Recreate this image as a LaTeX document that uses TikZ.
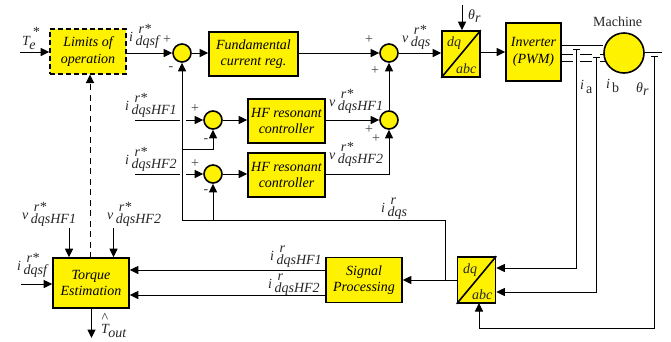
\documentclass[tikz,border=0pt]{standalone}
\usepackage{fontspec}
\setmainfont{Liberation Serif}
\usetikzlibrary{arrows.meta}
\newcommand{\sig}[3]{\textit{#1}\kern2.5pt\rlap{\raisebox{8pt}{\kern3pt\textit{#2}}}\raisebox{-4pt}{\textit{#3}}}
\newcommand{\sigT}[2]{\textit{T}\kern-1.5pt\rlap{\raisebox{9pt}{\kern3pt\textit{#1}}}\raisebox{-4pt}{\textit{#2}}}
\newcommand{\thetaR}{\textit{θ}\raisebox{-3pt}{\textit{r}}}
\begin{document}
\begin{tikzpicture}[x=1pt,y=-1pt]
	\tikzset{blockbox/.style = {rectangle,draw,fill=yellow,line width=1.6pt,inner sep=0pt,align=center,font=\fontsize{14}{16.5}\selectfont\itshape}}
	\tikzset{sumnode/.style = {circle,draw,fill=yellow,line width=1.6pt,minimum size=18pt,inner sep=0pt}}
	\tikzset{signame/.style = {anchor=base west,inner sep=0pt,font=\fontsize{14}{16}\selectfont,text=black!85}}
	\tikzset{signmark/.style = {inner sep=0pt,font=\fontsize{14}{14}\selectfont,text=black!75}}
	\tikzstyle{edge} = [-{Triangle[length=8.5pt,width=8pt]},line width=1pt]
	\tikzstyle{wire} = [line width=1pt]
	\tikzstyle{dashEdge} = [edge,dash pattern=on 6pt off 4.5pt]
	\tikzstyle{tapEdge} = [{Bar[width=7pt,length=1.5pt]}-{Triangle[length=8.5pt,width=8pt]},line width=1pt]
	\useasboundingbox (0,0) rectangle (671,341);
	%blocks
	\node[blockbox,dash pattern=on 5pt off 3pt,minimum width=76pt,minimum height=45pt] (limits) at (88,51.5) {Limits of\\operation};
	\node[blockbox,minimum width=89pt,minimum height=44pt] (fund) at (253.5,54) {Fundamental\\current reg.};
	\node[blockbox,minimum width=77pt,minimum height=44pt] (res1) at (286.5,121) {HF resonant\\controller};
	\node[blockbox,minimum width=77pt,minimum height=44pt] (res2) at (286.5,175) {HF resonant\\controller};
	\node[blockbox,minimum width=38pt,minimum height=46pt] (park1) at (461,54) {};
	\node[blockbox,minimum width=55pt,minimum height=58pt] (inv) at (533.5,52) {Inverter\\(PWM)};
	\node[blockbox,minimum width=38pt,minimum height=46pt] (park2) at (476.5,280) {};
	\node[blockbox,minimum width=76pt,minimum height=45pt] (proc) at (364,280) {Signal\\Processing};
	\node[blockbox,minimum width=76pt,minimum height=50pt] (torque) at (91,283) {Torque\\Estimation};
	%summing points
	\node[sumnode] (s1) at (182,53) {};
	\node[sumnode] (s2) at (213,120) {};
	\node[sumnode] (s3) at (213,174) {};
	\node[sumnode] (s4) at (389,53) {};
	\node[sumnode] (s5) at (389,120) {};
	\node[sumnode,minimum size=40pt] (machine) at (624,53) {};
	%diagonals of the dq/abc blocks
	\draw[line width=1.6pt] (park1.south west) -- (park1.north east);
	\draw[line width=1.6pt] (park2.south west) -- (park2.north east);
	\node[signame] (dq1) at (447,46) {\textit{dq}};
	\node[signame] (abc1) at (456,73) {\textit{abc}};
	\node[signame] (dq2) at (463,273) {\textit{dq}};
	\node[signame] (abc2) at (472,299) {\textit{abc}};
	%free ends
	\coordinate (teIn) at (20,52);
	\coordinate (thetaIn) at (462,5);
	\coordinate (hf1In) at (135,120);
	\coordinate (hf1Gap) at (180,120);
	\coordinate (hf1Go) at (186,120);
	\coordinate (hf2In) at (135,174);
	\coordinate (hf2Gap) at (180,174);
	\coordinate (hf2Go) at (186,174);
	\coordinate (vHf1In) at (69,228);
	\coordinate (vHf2In) at (113.5,228);
	\coordinate (iIn) at (21,284);
	\coordinate (tOut) at (91.5,338);
	\coordinate (fbTurn) at (182,220);
	\coordinate (fbEnd) at (445,220);
	\coordinate (fb1Tap) at (182,149);
	\coordinate (thetaTap) at (654,55.5);
	\coordinate (iaTap) at (576.5,48.5);
	\coordinate (ibTap) at (596,56.5);
	\coordinate (thetaEnd) at (662,52);
	%machine leads
	\draw[wire] (inv.east |- 0,45) -- (machine.west |- 0,45);
	\foreach \yLead in {54,61} {
		\draw[wire] (561,\yLead) -- (573,\yLead);
		\draw[wire] (579.5,\yLead) -- (592,\yLead);
		\draw[wire] (600,\yLead) -- (604.5,\yLead);
	}
	\draw[wire] (machine.east |- 0,52) -- (thetaEnd);
	%forward path
	\draw[edge] (teIn) -- (limits.west |- teIn);
	\draw[edge] (limits.east |- s1) -- (s1);
	\draw[edge] (s1) -- (fund.west |- s1);
	\draw[edge] (fund.east |- s4) -- (s4);
	\draw[edge] (s4) -- (park1.west |- s4);
	\draw[edge] (thetaIn) -- (park1.north -| thetaIn);
	\draw[edge] (park1.east |- 0,52) -- (inv.west |- 0,52);
	%HF paths
	\draw[wire] (hf1In) -- (hf1Gap);
	\draw[edge] (hf1Go) -- (s2);
	\draw[edge] (s2) -- (res1.west |- s2);
	\draw[wire] (hf2In) -- (hf2Gap);
	\draw[edge] (hf2Go) -- (s3);
	\draw[edge] (s3) -- (res2.west |- s3);
	\draw[edge] (res1.east |- s5) -- (s5);
	\draw[edge] (res2.east |- s3) -| (s5);
	\draw[edge] (s5) -- (s4);
	%feedback
	\draw[edge] (fbEnd |- park2.west) -- (fbEnd) -- (fbTurn) -- (s1);
	\draw[edge] (fb1Tap) -| (s2);
	\draw[edge] (s3 |- fbTurn) -- (s3);
	\draw[edge] (park2.west) -- (proc.east);
	\draw[tapEdge] (iaTap) |- (park2.east |- 0,268);
	\draw[tapEdge] (ibTap) |- (park2.east |- 0,292);
	\draw[tapEdge] (thetaTap) |- (479,328) -- (479,303);
	%torque estimator
	\draw[dashEdge] (90,258) -- (90,74.5);
	\draw[edge] (vHf1In) -- (torque.north -| vHf1In);
	\draw[edge] (vHf2In) -- (torque.north -| vHf2In);
	\draw[edge] (iIn) -- (torque.west |- iIn);
	\draw[edge] (torque.south -| tOut) -- (tOut);
	\draw[edge] (proc.west |- 0,270) -- (torque.east |- 0,270);
	\draw[edge] (proc.west |- 0,295) -- (torque.east |- 0,295);
	%signs
	\node[signmark] (p1) at (167,40) {+};
	\node[signmark] (m1) at (171,69) {-};
	\node[signmark] (p2) at (195,109) {+};
	\node[signmark] (m2) at (206,141) {-};
	\node[signmark] (p3) at (195,164) {+};
	\node[signmark] (m3) at (206,192) {-};
	\node[signmark] (p4) at (369,40) {+};
	\node[signmark] (p5) at (375,71) {+};
	\node[signmark] (p6) at (369,130) {+};
	\node[signmark] (p7) at (376,139) {+};
	%signal names
	\node[signame] (te) at (22,45) {\sigT{*}{e}};
	\node[signame] (idqsf) at (129,41) {\sig{i}{r*}{dqsf}};
	\node[signame] (ihf1) at (125,110) {\sig{i}{r*}{dqsHF1}};
	\node[signame] (ihf2) at (125,164) {\sig{i}{r*}{dqsHF2}};
	\node[signame] (vhf1) at (329,106) {\sig{v}{r*}{dqsHF1}};
	\node[signame] (vhf2) at (329,159) {\sig{v}{r*}{dqsHF2}};
	\node[signame] (vdqs) at (402,42) {\sig{v}{r*}{dqs}};
	\node[signame] (theta1) at (468,19) {\thetaR};
	\node[signame] (mach) at (593,26) {Machine};
	\node[signame] (ia) at (580,89) {\textit{i}\kern2pt\raisebox{-4pt}{a}};
	\node[signame] (ib) at (606,88) {\textit{i}\kern2pt\raisebox{-4pt}{b}};
	\node[signame] (theta2) at (636,92) {\thetaR};
	\node[signame] (vhf1b) at (22,219) {\sig{v}{r*}{dqsHF1}};
	\node[signame] (vhf2b) at (107,219) {\sig{v}{r*}{dqsHF2}};
	\node[signame] (idqsfb) at (17,270) {\sig{i}{r*}{dqsf}};
	\node[signame] (idqs) at (381,212) {\sig{i}{r}{dqs}};
	\node[signame] (ihf1b) at (270,260) {\sig{i}{r}{dqsHF1}};
	\node[signame] (ihf2b) at (268,288) {\sig{i}{r}{dqsHF2}};
	\node[signame] (tout) at (101,333) {\sigT{}{out}};
	\node[signame] (hat) at (101.5,322) {\textasciicircum};
\end{tikzpicture}
\end{document}
